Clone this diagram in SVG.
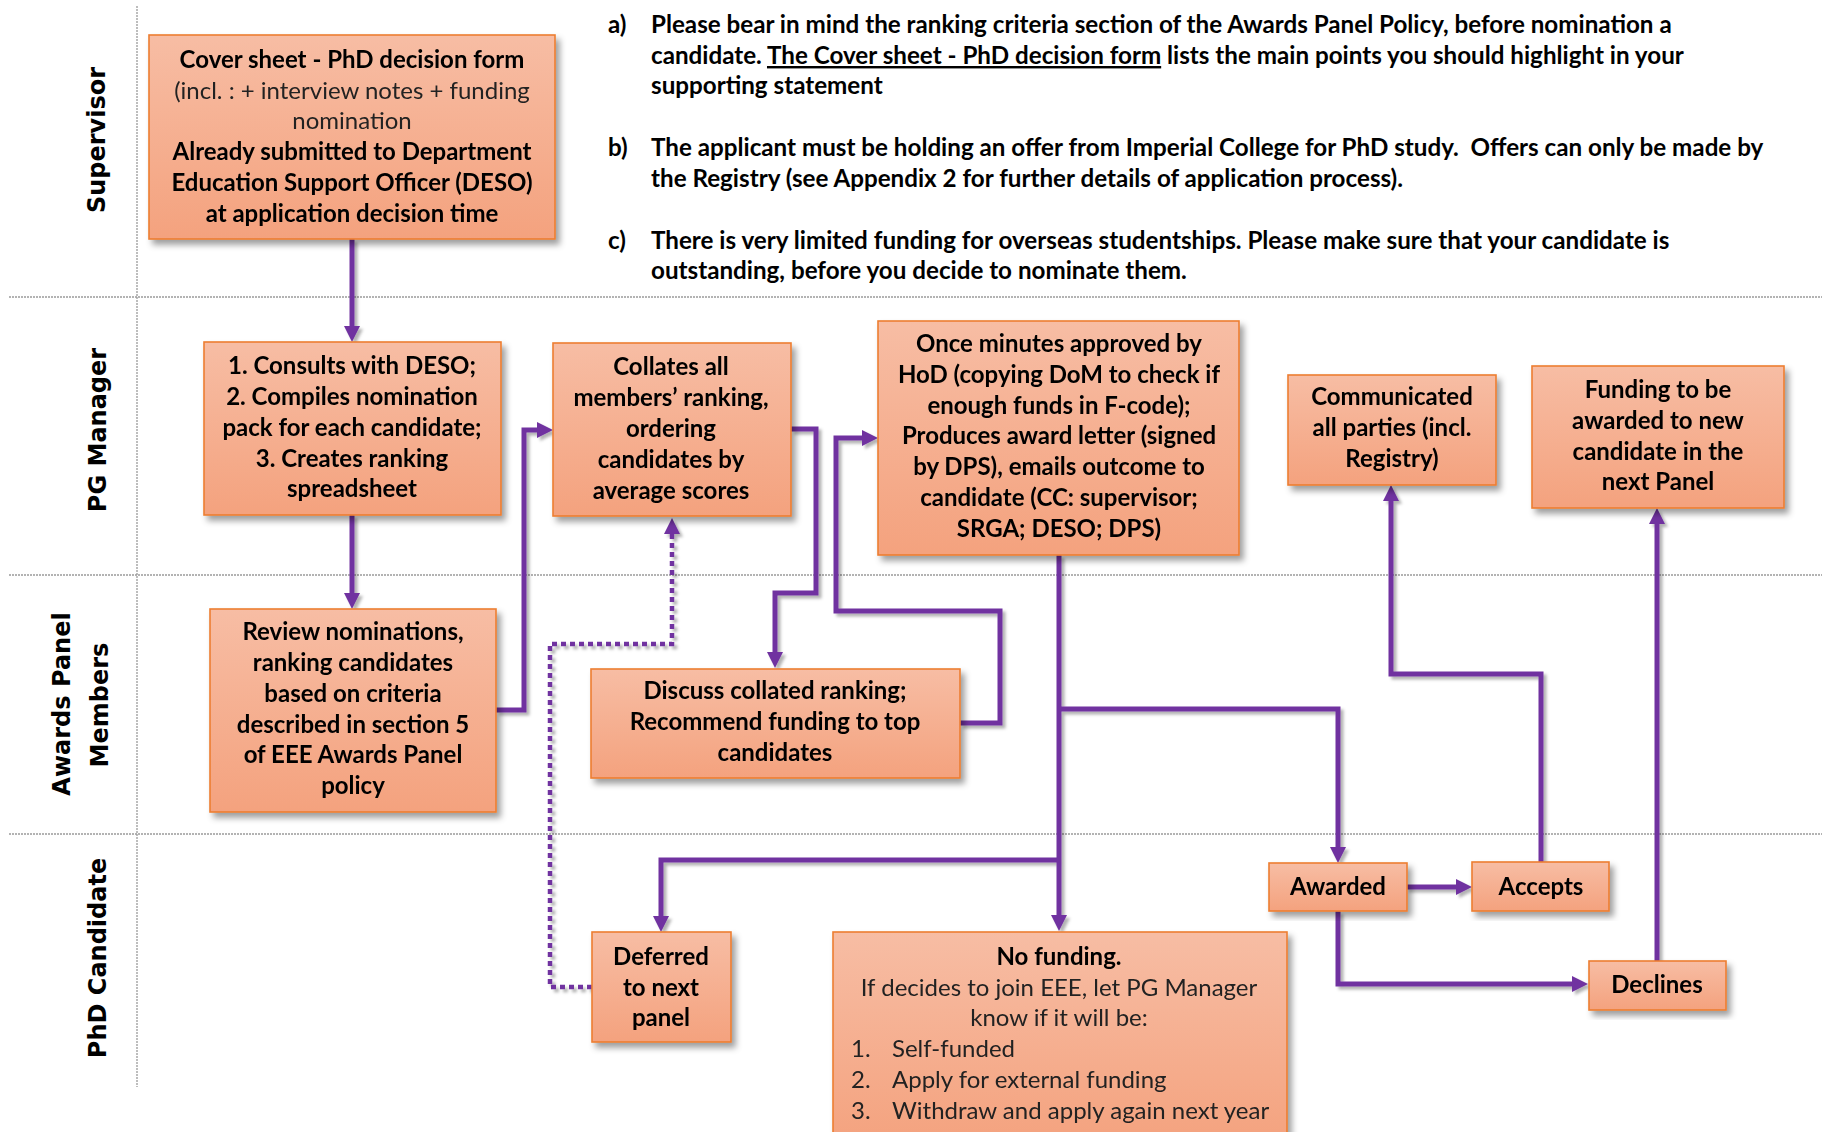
<svg xmlns="http://www.w3.org/2000/svg" width="1822" height="1132" viewBox="0 0 1822 1132">
<defs>
<linearGradient id="boxfill" x1="0" y1="0" x2="0" y2="1">
<stop offset="0" stop-color="#F7BDA4"/>
<stop offset="1" stop-color="#F4A27E"/>
</linearGradient>
<filter id="boxshadow" x="-10%" y="-10%" width="130%" height="130%">
<feDropShadow dx="4" dy="5" stdDeviation="3" flood-color="#000" flood-opacity="0.38"/>
</filter>
<filter id="lineshadow" x="-5%" y="-5%" width="110%" height="110%">
<feDropShadow dx="3" dy="3" stdDeviation="1.5" flood-color="#000" flood-opacity="0.3"/>
</filter>
<marker id="arrow" markerUnits="userSpaceOnUse" markerWidth="16" markerHeight="16" viewBox="0 0 16 16" refX="1" refY="8" orient="auto">
<path d="M0,0 L16,8 L0,16 z" fill="#7030A0"/>
</marker>
</defs>
<style>
.lane{stroke:#9a9a9a;stroke-width:1.3;stroke-dasharray:2 1;fill:none}
.lanelbl{font-family:"DejaVu Sans",Verdana,sans-serif;font-weight:bold;font-size:24px;fill:#000;text-anchor:middle}
.box{fill:url(#boxfill);stroke:#ED7D31;stroke-width:1.6}
.t{font-family:Lato,"Liberation Sans",sans-serif;font-size:24px;fill:#000;text-anchor:middle}
.b{font-weight:bold}
.r{font-weight:normal;fill:#222}
.l{text-anchor:start}
.note{font-family:Lato,"Liberation Sans",sans-serif;font-size:24.2px;font-weight:bold;fill:#000}
.conn{stroke:#7030A0;stroke-width:5;fill:none;stroke-linejoin:miter;stroke-linecap:butt}
.dot{stroke:#7030A0;stroke-width:4.5;fill:none;stroke-dasharray:5 4}
</style>
<rect width="1822" height="1132" fill="#fff"/>
<g id="lanes">
<line class="lane" x1="137" y1="6" x2="137" y2="1087"/>
<line class="lane" x1="9" y1="297" x2="1822" y2="297"/>
<line class="lane" x1="9" y1="575" x2="1822" y2="575"/>
<line class="lane" x1="9" y1="834" x2="1822" y2="834"/>
<text class="lanelbl" transform="translate(105,140) rotate(-90)">Supervisor</text>
<text class="lanelbl" transform="translate(106,430) rotate(-90)">PG Manager</text>
<text class="lanelbl" transform="translate(70,704) rotate(-90)">Awards Panel</text>
<text class="lanelbl" transform="translate(108,705) rotate(-90)">Members</text>
<text class="lanelbl" transform="translate(106,958) rotate(-90)">PhD Candidate</text>
</g>
<g id="notes" class="note">
<text x="608" y="33">a)</text>
<text x="651" y="33">Please bear in mind the ranking criteria section of the Awards Panel Policy, before nomination a</text>
<text x="651" y="64">candidate. <tspan text-decoration="underline">The Cover sheet - PhD decision form</tspan> lists the main points you should highlight in your</text>
<text x="651" y="94">supporting statement</text>
<text x="608" y="156">b)</text>
<text x="651" y="156" xml:space="preserve">The applicant must be holding an offer from Imperial College for PhD study.  Offers can only be made by</text>
<text x="651" y="187">the Registry (see Appendix 2 for further details of application process).</text>
<text x="608" y="249">c)</text>
<text x="651" y="249">There is very limited funding for overseas studentships. Please make sure that your candidate is</text>
<text x="651" y="279">outstanding, before you decide to nominate them.</text>
</g>
<g id="connectors" filter="url(#lineshadow)">
<path class="conn" d="M352,239 V327" marker-end="url(#arrow)"/>
<path class="conn" d="M352,515 V594" marker-end="url(#arrow)"/>
<path class="conn" d="M496,710 H524 V430 H538" marker-end="url(#arrow)"/>
<path class="conn" d="M791,429 H816 V593 H775 V653" marker-end="url(#arrow)"/>
<path class="conn" d="M960,723 H1000 V611 H836 V438 H863" marker-end="url(#arrow)"/>
<path class="conn" d="M1059,555 V916" marker-end="url(#arrow)"/>
<path class="conn" d="M1059,860 H661 V917" marker-end="url(#arrow)"/>
<path class="conn" d="M1059,709 H1338 V848" marker-end="url(#arrow)"/>
<path class="conn" d="M1406,887 H1457" marker-end="url(#arrow)"/>
<path class="conn" d="M1338,911 V984 H1573" marker-end="url(#arrow)"/>
<path class="conn" d="M1541,862 V674 H1391 V500" marker-end="url(#arrow)"/>
<path class="conn" d="M1657,961 V523" marker-end="url(#arrow)"/>
<path class="dot" d="M592,987 H550 V644 H672 V533" marker-end="url(#arrow)"/>
</g>
<g id="n-cover" filter="url(#boxshadow)">
<rect class="box" x="149" y="35" width="406" height="204"/>
<text class="t b" x="352" y="68">Cover sheet - PhD decision form</text>
<text class="t r" x="352" y="99">(incl. : + interview notes + funding</text>
<text class="t r" x="352" y="129">nomination</text>
<text class="t b" x="352" y="160">Already submitted to Department</text>
<text class="t b" x="352" y="191">Education Support Officer (DESO)</text>
<text class="t b" x="352" y="222">at application decision time</text>
</g>
<g id="n-consults" filter="url(#boxshadow)">
<rect class="box" x="204" y="342" width="297" height="173"/>
<text class="t b" x="352" y="374">1. Consults with DESO;</text>
<text class="t b" x="352" y="405">2. Compiles nomination</text>
<text class="t b" x="352" y="436">pack for each candidate;</text>
<text class="t b" x="352" y="467">3. Creates ranking</text>
<text class="t b" x="352" y="497">spreadsheet</text>
</g>
<g id="n-review" filter="url(#boxshadow)">
<rect class="box" x="210" y="609" width="286" height="203"/>
<text class="t b" x="353" y="640">Review nominations,</text>
<text class="t b" x="353" y="671">ranking candidates</text>
<text class="t b" x="353" y="702">based on criteria</text>
<text class="t b" x="353" y="733">described in section 5</text>
<text class="t b" x="353" y="763">of EEE Awards Panel</text>
<text class="t b" x="353" y="794">policy</text>
</g>
<g id="n-collates" filter="url(#boxshadow)">
<rect class="box" x="553" y="343" width="238" height="173"/>
<text class="t b" x="671" y="375">Collates all</text>
<text class="t b" x="671" y="406">members’ ranking,</text>
<text class="t b" x="671" y="437">ordering</text>
<text class="t b" x="671" y="468">candidates by</text>
<text class="t b" x="671" y="499">average scores</text>
</g>
<g id="n-discuss" filter="url(#boxshadow)">
<rect class="box" x="591" y="669" width="369" height="109"/>
<text class="t b" x="775" y="699">Discuss collated ranking;</text>
<text class="t b" x="775" y="730">Recommend funding to top</text>
<text class="t b" x="775" y="761">candidates</text>
</g>
<g id="n-once" filter="url(#boxshadow)">
<rect class="box" x="878" y="321" width="361" height="234"/>
<text class="t b" x="1059" y="352">Once minutes approved by</text>
<text class="t b" x="1059" y="383">HoD (copying DoM to check if</text>
<text class="t b" x="1059" y="414">enough funds in F-code);</text>
<text class="t b" x="1059" y="444">Produces award letter (signed</text>
<text class="t b" x="1059" y="475">by DPS), emails outcome to</text>
<text class="t b" x="1059" y="506">candidate (CC: supervisor;</text>
<text class="t b" x="1059" y="537">SRGA; DESO; DPS)</text>
</g>
<g id="n-communicated" filter="url(#boxshadow)">
<rect class="box" x="1288" y="375" width="208" height="110"/>
<text class="t b" x="1392" y="405">Communicated</text>
<text class="t b" x="1392" y="436">all parties (incl.</text>
<text class="t b" x="1392" y="467">Registry)</text>
</g>
<g id="n-funding" filter="url(#boxshadow)">
<rect class="box" x="1532" y="366" width="252" height="142"/>
<text class="t b" x="1658" y="398">Funding to be</text>
<text class="t b" x="1658" y="429">awarded to new</text>
<text class="t b" x="1658" y="460">candidate in the</text>
<text class="t b" x="1658" y="490">next Panel</text>
</g>
<g id="n-awarded" filter="url(#boxshadow)">
<rect class="box" x="1269" y="863" width="138" height="48"/>
<text class="t b" x="1338" y="895">Awarded</text>
</g>
<g id="n-accepts" filter="url(#boxshadow)">
<rect class="box" x="1472" y="862" width="137" height="49"/>
<text class="t b" x="1541" y="895">Accepts</text>
</g>
<g id="n-declines" filter="url(#boxshadow)">
<rect class="box" x="1589" y="961" width="137" height="49"/>
<text class="t b" x="1657" y="993">Declines</text>
</g>
<g id="n-deferred" filter="url(#boxshadow)">
<rect class="box" x="592" y="932" width="139" height="110"/>
<text class="t b" x="661" y="965">Deferred</text>
<text class="t b" x="661" y="996">to next</text>
<text class="t b" x="661" y="1026">panel</text>
</g>
<g id="n-nofunding" filter="url(#boxshadow)">
<rect class="box" x="833" y="932" width="454" height="215"/>
<text class="t b" x="1059" y="965">No funding.</text>
<text class="t r" x="1059" y="996">If decides to join EEE, let PG Manager</text>
<text class="t r" x="1059" y="1026">know if it will be:</text>
<text class="t r l" x="851" y="1057">1.</text>
<text class="t r l" x="892" y="1057">Self-funded</text>
<text class="t r l" x="851" y="1088">2.</text>
<text class="t r l" x="892" y="1088">Apply for external funding</text>
<text class="t r l" x="851" y="1119">3.</text>
<text class="t r l" x="892" y="1119">Withdraw and apply again next year</text>
</g>
</svg>
